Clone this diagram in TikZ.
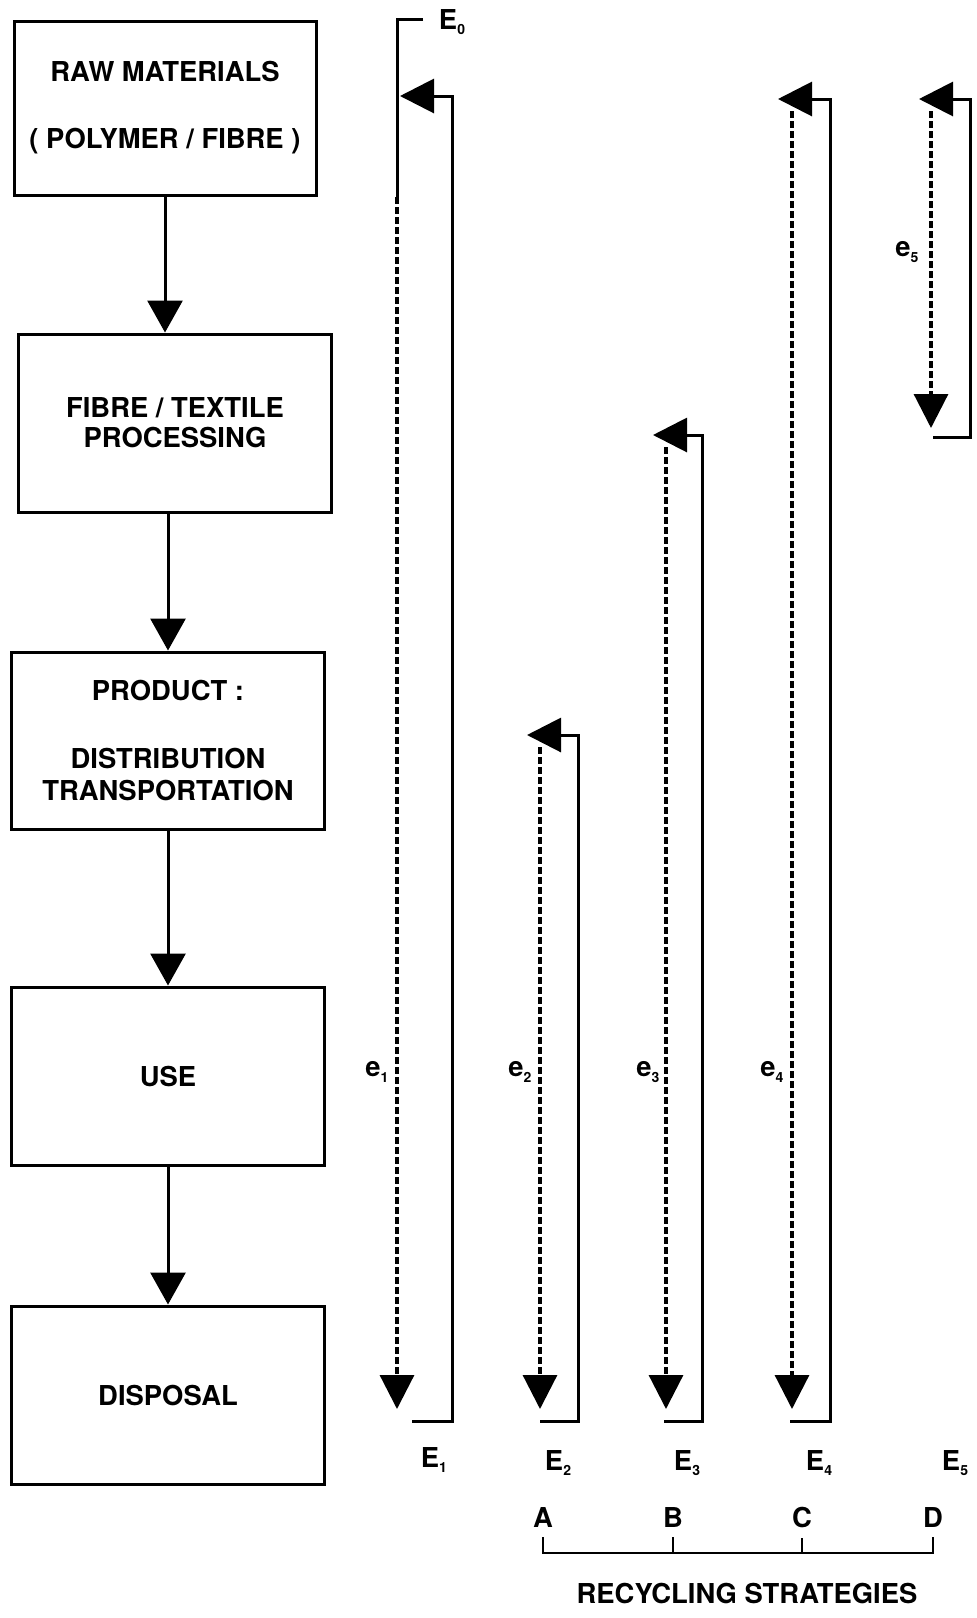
\documentclass[tikz,border=0pt]{standalone}
\usepackage{fontspec}
\setmainfont{TeX Gyre Heros}
\usepackage{tikz}
\usetikzlibrary{arrows.meta,positioning}
\newcommand{\subidx}[1]{\raisebox{-0.35ex}{\fontsize{7}{8}\selectfont #1}}
\tikzstyle{stage} = [rectangle, draw, line width=1.5pt, text centered, align=center, font=\bfseries\fontsize{13.7}{16}\selectfont, minimum width=156.5pt, minimum height=89pt]
\tikzstyle{tedge} = [draw, line width=1.5pt, -{Triangle[length=16pt, width=17.5pt]}]
\tikzstyle{ret} = [draw, line width=1.5pt, -{Triangle[length=17pt, width=17pt]}]
\tikzstyle{feed} = [draw, line width=1.6pt, dash pattern=on 3.5pt off 1.5pt, -{Triangle[length=17pt, width=17pt]}]
\tikzstyle{wire} = [draw, line width=1.5pt]
\tikzstyle{lbl} = [font=\bfseries\fontsize{13.7}{16}\selectfont, inner sep=2pt]

\begin{document}
\begin{tikzpicture}[x=0.5pt, y=-0.5pt]
\useasboundingbox (0,0) rectangle (977,1618);

% stages ==================================
\node[stage, minimum width=151pt, minimum height=87pt] (raw) at (165,108) {RAW MATERIALS\\[17.5pt]( POLYMER / FIBRE )};
\node[stage, below=68pt of raw, xshift=5pt] (fibre) {FIBRE / TEXTILE\\[-1pt]PROCESSING};
\node[stage, below=68.5pt of fibre, xshift=-3.5pt, minimum height=88.5pt] (product) {PRODUCT :\\[18pt]DISTRIBUTION\\TRANSPORTATION};
\node[stage, below=77.5pt of product] (use) {USE};
\node[stage, below=69pt of use] (disposal) {DISPOSAL};

% flow
\path[tedge] (raw) -- (raw |- fibre.north);
\path[tedge] (product |- fibre.south) -- (product);
\path[tedge] (product) -- (use);
\path[tedge] (use) -- (disposal);

% recycling loops =========================

% loop 1 (from E0)
\coordinate (e0) at (423,19);
\coordinate (e0c) at (397,19);
\coordinate (d1t) at (397,197);
\coordinate (d1b) at (397,1409);
\coordinate (s1t) at (452,96);
\coordinate (s1b) at (452,1421);
\coordinate (h1t) at (400,96);
\coordinate (h1b) at (412,1421);

% loop 2
\coordinate (d2t) at (540,747);
\coordinate (d2b) at (540,1409);
\coordinate (s2t) at (578,735);
\coordinate (s2b) at (578,1421);
\coordinate (h2t) at (527,735);
\coordinate (h2b) at (540,1421);

% loop 3
\coordinate (d3t) at (666,447);
\coordinate (d3b) at (666,1409);
\coordinate (s3t) at (702,435);
\coordinate (s3b) at (702,1421);
\coordinate (h3t) at (653,435);
\coordinate (h3b) at (664,1421);

% loop 4
\coordinate (d4t) at (792,111);
\coordinate (d4b) at (792,1409);
\coordinate (s4t) at (830,99);
\coordinate (s4b) at (830,1421);
\coordinate (h4t) at (778,99);
\coordinate (h4b) at (790,1421);

% loop 5
\coordinate (d5t) at (931,111);
\coordinate (d5b) at (931,428);
\coordinate (s5t) at (970,99);
\coordinate (s5b) at (970,437);
\coordinate (h5t) at (919,99);
\coordinate (h5b) at (933,437);

\path[wire] (e0) -- (e0c) -- (d1t);
\path[feed] (d1t) -- (d1b);
\path[ret] (h1b) -- (s1b) -- (s1t) -- (h1t);

\path[feed] (d2t) -- (d2b);
\path[ret] (h2b) -- (s2b) -- (s2t) -- (h2t);

\path[feed] (d3t) -- (d3b);
\path[ret] (h3b) -- (s3b) -- (s3t) -- (h3t);

\path[feed] (d4t) -- (d4b);
\path[ret] (h4b) -- (s4b) -- (s4t) -- (h4t);

\path[feed] (d5t) -- (d5b);
\path[ret] (h5b) -- (s5b) -- (s5t) -- (h5t);

% labels
\node[lbl] (E0) at (452,22) {E\subidx{0}};
\node[lbl] (e1) at (377,1072) {e\subidx{1}};
\node[lbl] (e2) at (520,1072) {e\subidx{2}};
\node[lbl] (e3) at (648,1072) {e\subidx{3}};
\node[lbl] (e4) at (772,1072) {e\subidx{4}};
\node[lbl] (e5) at (907,252) {e\subidx{5}};

\node[lbl] (E1) at (434,1460) {E\subidx{1}};
\node[lbl] (E2) at (558,1463) {E\subidx{2}};
\node[lbl] (E3) at (687,1463) {E\subidx{3}};
\node[lbl] (E4) at (819,1463) {E\subidx{4}};
\node[lbl] (E5) at (955,1463) {E\subidx{5}};

% strategies
\node[lbl] (A) at (543,1517) {A};
\node[lbl] (B) at (673,1517) {B};
\node[lbl] (C) at (802,1517) {C};
\node[lbl] (D) at (933,1517) {D};
\coordinate (bar) at (0,1553);

\path[wire, line width=1.3pt] ([yshift=-3pt]A.south) -- (A |- bar) -- (D |- bar) -- ([yshift=-3pt]D.south);
\path[wire, line width=1.3pt] (B |- bar) -- ([yshift=-3pt]B.south);
\path[wire, line width=1.3pt] (C |- bar) -- ([yshift=-3pt]C.south);

\node[lbl] (strat) at (747,1593) {RECYCLING STRATEGIES};

\end{tikzpicture}
\end{document}
